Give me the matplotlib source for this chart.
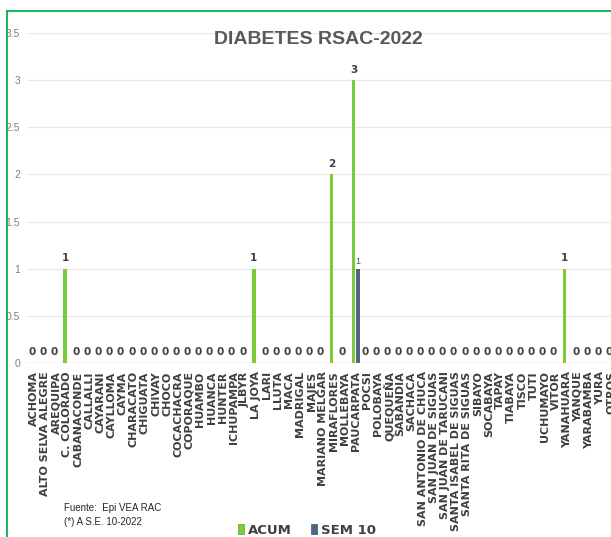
import matplotlib
matplotlib.use("Agg")
import matplotlib.pyplot as plt
from matplotlib.patches import Patch
from matplotlib.lines import Line2D
import numpy as np

distritos = ["ACHOMA", "ALTO SELVA ALEGRE", "AREQUIPA", "C. COLORADO", "CABANACONDE",
             "CALLALLI", "CAYARANI", "CAYLLOMA", "CAYMA", "CHARACATO", "CHIGUATA",
             "CHIVAY", "CHOCO", "COCACHACRA", "COPORAQUE", "HUAMBO", "HUANCA", "HUNTER",
             "ICHUPAMPA", "JLBYR", "LA JOYA", "LARI", "LLUTA", "MACA", "MADRIGAL", "MAJES",
             "MARIANO MELGAR", "MIRAFLORES", "MOLLEBAYA", "PAUCARPATA", "POCSI",
             "POLOBAYA", "QUEQUEÑA", "SABANDIA", "SACHACA", "SAN ANTONIO DE CHUCA",
             "SAN JUAN DE SIGUAS", "SAN JUAN DE TARUCANI", "SANTA ISABEL DE SIGUAS",
             "SANTA RITA DE SIGUAS", "SIBAYO", "SOCABAYA", "TAPAY", "TIABAYA", "TISCO",
             "TUTI", "UCHUMAYO", "VITOR", "YANAHUARA", "YANQUE", "YARABAMBA", "YURA",
             "OTROS"]
acum = [0, 0, 0, 1, 0, 0, 0, 0, 0, 0, 0, 0, 0, 0, 0, 0, 0, 0, 0, 0, 1, 0, 0, 0, 0, 0,
        0, 2, 0, 3, 0, 0, 0, 0, 0, 0, 0, 0, 0, 0, 0, 0, 0, 0, 0, 0, 0, 0, 1, 0, 0, 0, 0]
sem10 = [0, 0, 0, 0, 0, 0, 0, 0, 0, 0, 0, 0, 0, 0, 0, 0, 0, 0, 0, 0, 0, 0, 0, 0, 0, 0,
         0, 0, 0, 1, 0, 0, 0, 0, 0, 0, 0, 0, 0, 0, 0, 0, 0, 0, 0, 0, 0, 0, 0, 0, 0, 0, 0]
yticks = [0, 0.5, 1, 1.5, 2, 2.5, 3, 3.5]
ytick_labels = ["0", "0.5", "1", "1.5", "2", "2.5", "3", "3.5"]

NARROW = ["Liberation Sans Narrow", "Liberation Sans", "DejaVu Sans"]
W, H = 611, 537

fig = plt.figure(figsize=(W / 100, H / 100), dpi=100)
# axes extends past the right edge: the source is a cropped screenshot
ax = fig.add_axes([27 / W, (H - 363) / H, (650 - 27) / W, 330 / H])

x = np.arange(len(distritos))
b1 = ax.bar(x - 0.2, acum, 0.32, color="#7BCA38", lw=0, zorder=3, label="ACUM")
b2 = ax.bar(x + 0.2, sem10, 0.32, color="#4F6584", lw=0, zorder=3, label="SEM 10")

ax.bar_label(b1, labels=[str(v) for v in acum], padding=4, fontsize=7.5,
             fontweight="bold", color="#404040")
ax.bar_label(b2, labels=["" if v == 0 else str(v) for v in sem10], padding=2,
             fontsize=6.5, color="#595959", family=NARROW)

ax.set_xlim((27 - 34) / 11.1, (650 - 34) / 11.1)
ax.set_ylim(0, 3.5)
ax.set_xticks(x)
ax.set_xticklabels(distritos, rotation=90, fontsize=8, fontweight="bold",
                   color="#3F3F3F")
ax.set_yticks(yticks)
ax.set_yticklabels(ytick_labels, fontsize=7.5, color="#7F7F7F", family=NARROW)
ax.tick_params(axis="both", length=0)
ax.tick_params(axis="x", pad=6)
ax.tick_params(axis="y", pad=5)
for s in ax.spines.values():
    s.set_visible(False)
ax.grid(axis="y", color="#E8E8E8", lw=0.9, zorder=0)
ax.axhline(0, color="#D9D9D9", lw=1, zorder=1)
ax.set_axisbelow(True)

fig.text(318 / W, (H - 40) / H, "DIABETES RSAC-2022", ha="center", va="center",
         fontsize=14, fontweight="bold", color="#595959", family=NARROW)

fig.text(64 / W, (H - 508) / H, "Fuente:  Epi VEA RAC", ha="left", va="center",
         fontsize=7, color="#262626", family=NARROW)
fig.text(64 / W, (H - 522) / H, "(*) A S.E. 10-2022", ha="left", va="center",
         fontsize=7, color="#262626", family=NARROW)

handles = [Patch(facecolor="#7BCA38", edgecolor="#5AA82A", lw=0.5),
           Patch(facecolor="#4F6584", edgecolor="#3E526E", lw=0.5)]
fig.legend(handles, ["ACUM", "SEM 10"], loc="center",
           bbox_to_anchor=(307 / W, (H - 530) / H), ncol=2, frameon=False,
           handlelength=0.5, handleheight=0.75, handletextpad=0.3,
           columnspacing=1.4, borderpad=0,
           prop={"size": 9.5, "weight": "bold"}, labelcolor="#404040")

# green frame (left and top edges visible in the crop)
fig.add_artist(Line2D([7 / W, 7 / W], [0, (H - 11) / H], color="#00B050", lw=1.3))
fig.add_artist(Line2D([7 / W, 1.0], [(H - 11) / H, (H - 11) / H], color="#00B050", lw=1.3))

fig.savefig("out.png", dpi=100)
